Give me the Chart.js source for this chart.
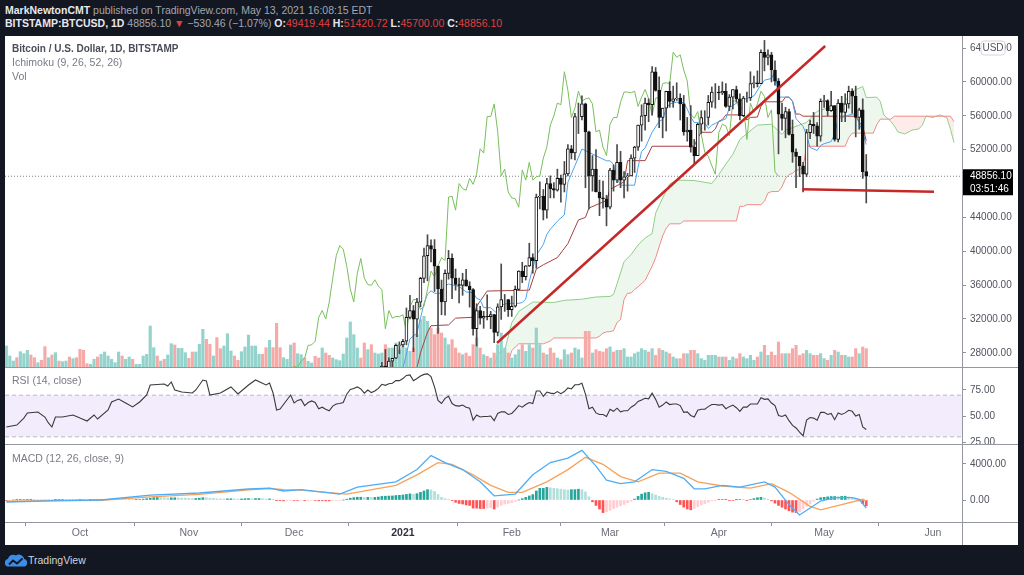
<!DOCTYPE html>
<html><head><meta charset="utf-8">
<script src="https://cdn.jsdelivr.net/npm/chart.js@4.4.1/dist/chart.umd.min.js"></script>
<style>
html,body{margin:0;padding:0}
body{width:1024px;height:575px;background:#131722;position:relative;overflow:hidden;font-family:"Liberation Sans",Arial,sans-serif}
.hdr{position:absolute;left:5px;font-size:10.5px;line-height:13px;color:#a3a6af;white-space:nowrap}
.hdr b{color:#e6e8ee}
.hdr .r{color:#e0403d}
#panel{position:absolute;left:5px;top:36px;width:1013px;height:509px;background:#fff}
canvas{position:absolute;left:5px}
.sep{position:absolute;background:#9598a1}
.leg{position:absolute;left:12px;font-size:10.5px;line-height:13px;color:#787b86;white-space:nowrap}
</style></head><body>
<div class="hdr" style="top:4px"><b>MarkNewtonCMT</b> published on TradingView.com, May 13, 2021 16:08:15 EDT</div>
<div class="hdr" style="top:17px"><b>BITSTAMP:BTCUSD, 1D</b> 48856.10 <span class="r">&#9660;</span> &minus;530.46 (&minus;1.07%) <b>O:</b><span class="r">49419.44</span> <b>H:</b><span class="r">51420.72</span> <b>L:</b><span class="r">45700.00</span> <b>C:</b><span class="r">48856.10</span></div>
<div id="panel"></div>
<canvas id="cPrice" width="1013" height="331" style="top:36px"></canvas>
<canvas id="cRsi" width="1013" height="77" style="top:367px"></canvas>
<canvas id="cMacd" width="1013" height="101" style="top:444px"></canvas>
<div class="sep" style="left:5px;top:367px;width:1013px;height:1px"></div>
<div class="sep" style="left:5px;top:444px;width:1013px;height:1px"></div>
<div class="sep" style="left:5px;top:522px;width:1013px;height:1px"></div>
<div class="sep" style="left:962px;top:36px;width:1px;height:509px"></div>
<div class="leg" style="top:42px;font-weight:bold;font-size:10px;color:#4a4d57">Bitcoin / U.S. Dollar, 1D, BITSTAMP</div>
<div class="leg" style="top:56px">Ichimoku (9, 26, 52, 26)</div>
<div class="leg" style="top:70px">Vol</div>
<div class="leg" style="top:374px">RSI (14, close)</div>
<div class="leg" style="top:452px">MACD (12, 26, close, 9)</div>
<svg style="position:absolute;left:5px;top:553px" width="22" height="14" viewBox="0 0 22 14">
<path d="M2.5 13.5 A4 4 0 0 1 3 5.8 A5.2 5.2 0 0 1 11 2.6 A5 5 0 0 1 19 5.8 A4 4 0 0 1 19.5 13.5 Z" fill="#3c8de6"/>
<polyline points="4,11.5 8,7.5 12,10.5 17.5,5.5" fill="none" stroke="#131722" stroke-width="1.8"/>
</svg>
<div style="position:absolute;left:28px;top:553px;font-size:10.5px;line-height:14px;color:#d1d4dc">TradingView</div>
<script>
Chart.defaults.font.family = '"Liberation Sans", Arial, sans-serif';
Chart.defaults.animation = false;

// ================= DATA =================
// bar days are counted from 2020-10-01 (day 0); first bar = 2020-09-10
const FIRST_DAY = -21;
const opens = [
10240,10340,10390,10440,10330,10680,10790,10960,10950,10940,11080,10920,10420,10530,10240,10740,10690,10730,10775,10700,10840,
10780,10620,10570,10550,10670,10790,10600,10670,10920,11060,11300,11380,11540,11430,11430,11500,11320,11370,11500,11750,11920,12820,12970,12930,13120,13030,13070,13650,13280,13460,13560,
13800,13760,13560,14030,14160,15590,15580,14840,15480,15330,15300,15700,16280,16320,16070,15960,16720,17660,17800,17820,18660,18690,18420,18370,19160,18740,17150,17140,17720,18180,
19700,18770,19210,19430,18670,19150,19360,19170,18320,18540,18250,18030,18800,19160,19270,19430,21340,22800,23130,23860,23470,22720,23810,23230,23730,24660,26440,26250,27030,27360,28880,
28950,29370,32190,33000,31990,33990,36800,39470,40670,40240,38240,35540,34010,37390,39150,36830,36070,35970,36630,35890,35470,30850,33000,32100,32300,32270,32520,30400,33440,34300,34300,
33100,33500,35500,37660,36990,38280,39250,38900,46400,46500,44850,48000,47400,47200,48600,47900,49140,52100,51600,55900,55900,57400,54100,48900,49700,47000,46300,46200,
45200,49600,48400,50500,48400,48800,48900,51000,52300,54900,56000,57500,57300,61200,59000,55800,56900,58900,57700,58000,58100,57400,54100,54300,52300,51300,55000,55800,55800,57600,58800,
58800,58700,58900,57100,58200,59100,58000,56000,58100,58100,59800,59900,59800,63500,62900,63200,61400,60100,56200,55700,56500,53800,51700,51200,50100,49100,54000,55000,54800,53600,
57700,57800,56600,57200,53200,57500,56400,57400,58900,58300,55800,56700,49419.44];
const highs = [
10480,10400,10470,10580,10800,10940,11080,11040,11040,11180,11080,10990,10580,10540,10790,10760,10780,10800,10950,10860,10850,
10920,10650,10600,10700,10800,10800,10690,10950,11100,11480,11440,11720,11560,11550,11630,11540,11400,11500,11820,12000,13200,13190,13030,13150,13340,13250,13780,13860,13630,13680,14100,
13900,13830,14070,14240,15750,15970,15770,15650,15850,15460,15950,16340,16480,16330,16150,16880,17860,18480,18140,18800,18950,18730,18770,19420,19480,18920,17450,17900,18350,19860,
19920,19310,19560,19520,19180,19420,19420,19290,18640,18570,18290,18930,19400,19330,19560,21500,23770,23290,24180,24300,24100,23830,24130,23780,24780,26870,28400,27400,27370,28990,29300,
29600,33300,34780,33600,34440,36940,40360,41950,41360,41380,38240,36600,37800,40100,39700,37900,36820,37400,37850,36400,35600,33800,33500,32900,34850,32900,32560,33800,38500,34900,34300,
34700,35900,37700,38700,38300,40950,39700,46750,48200,47300,48600,48900,48100,49700,49000,50600,52600,52500,56300,57500,58350,57500,54200,51300,52000,48400,48300,46600,
49800,50200,52600,51800,49400,49200,51400,52400,54900,57300,58100,58000,61800,61700,60600,56900,58900,60000,59500,59900,58600,58400,55800,57200,53200,55100,56600,56600,58400,59400,59800,
59500,60000,59800,58500,59100,59500,58600,58300,58800,61200,60700,61300,63800,64900,63800,63500,62500,60400,57500,57000,56800,55500,52100,51200,50500,54400,55500,56400,55200,58000,
58400,57900,58900,57200,57900,58300,58600,59500,59200,59500,56900,58000,51420.72];
const lows = [
10200,10210,10300,10200,10280,10640,10700,10750,10820,10900,10780,10370,10360,10140,10200,10560,10640,10630,10650,10640,10670,
10440,10380,10500,10520,10620,10540,10560,10530,10840,11050,11270,11200,11300,11280,11280,11220,11300,11350,11410,11680,11900,12700,12730,12900,12900,12800,13050,12940,12990,13130,13430,
13620,13200,13300,13540,14100,15210,14350,14720,14830,15080,15280,15460,15980,15700,15800,15880,16550,17220,17360,17760,18350,17620,18000,18050,18540,16190,16500,16880,17570,18180,
18110,18330,18890,18560,18520,18880,18900,18200,17640,17910,17570,18000,18710,19000,19050,19300,21240,22350,22770,23070,21900,22370,22700,22730,23430,24500,25860,26090,25870,27320,27900,
28700,28950,32000,28130,29900,33430,36300,36500,38750,35250,30300,32500,32450,36700,34400,35400,33900,34800,35900,33400,30100,28800,31400,30900,31900,30850,29200,30000,31950,32900,32300,
32300,33400,35400,36300,36600,38200,37400,38000,45000,43700,43900,46300,46300,47100,45800,47000,48900,50900,50800,53900,55500,47500,45000,47100,47000,44200,45100,43000,
45000,47100,48100,47500,46300,47100,48900,49300,51900,53000,54300,55300,56100,58900,54600,53400,54200,57000,57000,57800,55500,53700,53000,51700,50400,51300,53900,54300,54900,57000,56900,
57900,58500,57000,56600,56800,57600,55500,55900,57600,57800,59300,59400,59800,61300,62000,60000,59600,51500,54300,53400,53700,50500,47500,48800,47000,48800,53300,53900,52400,53000,
57000,56000,56500,53000,52900,55300,55300,56900,56300,53500,54400,48600,45700];
const closes = [
10340,10390,10440,10330,10680,10790,10960,10950,10940,11080,10920,10420,10530,10240,10740,10690,10730,10775,10700,10840,10780,
10620,10570,10550,10670,10790,10600,10670,10920,11060,11300,11380,11540,11430,11430,11500,11320,11370,11500,11750,11920,12820,12970,12930,13120,13030,13070,13650,13280,13460,13560,13800,
13760,13560,14030,14160,15590,15580,14840,15480,15330,15300,15700,16280,16320,16070,15960,16720,17660,17800,17820,18660,18690,18420,18370,19160,18740,17150,17140,17720,18180,19700,
18770,19210,19430,18670,19150,19360,19170,18320,18540,18250,18030,18800,19160,19270,19430,21340,22800,23130,23860,23470,22720,23810,23230,23730,24660,26440,26250,27030,27360,28880,28950,
29370,32190,33000,31990,33990,36800,39470,40670,40240,38240,35540,34010,37390,39150,36830,36070,35970,36630,35890,35470,30850,33000,32100,32300,32270,32520,30400,33440,34300,34300,33100,
33500,35500,37660,36990,38280,39250,38900,46400,46500,44850,48000,47400,47200,48600,47900,49140,52100,51600,55900,55900,57400,54100,48900,49700,47000,46300,46200,45200,
49600,48400,50500,48400,48800,48900,51000,52300,54900,56000,57500,57300,61200,59000,55800,56900,58900,57700,58000,58100,57400,54100,54300,52300,51300,55000,55800,55800,57600,58800,58800,
58700,58900,57100,58200,59100,58000,56000,58100,58100,59800,59900,59800,63500,62900,63200,61400,60100,56200,55700,56500,53800,51700,51200,50100,49100,54000,55000,54800,53600,57700,
57800,56600,57200,53200,57500,56400,57400,58900,58300,55800,56700,49387,48856.10];
// volume (BTC)
const volumes = [
6300,3300,1800,2800,4600,4000,5000,3600,2800,1300,2000,6100,2800,3600,4300,1800,1600,1800,3000,2500,2800,
5300,5000,1000,800,2300,3000,3800,4500,3300,2300,1300,4500,3300,2300,3000,2300,800,800,3300,3800,12300,5800,3300,1800,2300,3600,7000,6600,5600,5600,4300,
2600,4500,4500,6800,11300,8300,6800,3300,8800,5500,6300,10000,4800,3300,2000,4600,6000,9600,6300,6300,3800,3800,5800,8000,5800,13100,5800,2800,2300,6600,
7200,4000,3700,2700,1700,1200,3200,2700,5700,4200,3500,2700,2200,1900,3900,8700,13500,9700,5700,2700,7200,5200,6700,4200,3900,4200,6700,5700,5700,7200,5200,
6700,5700,4700,5700,9700,14200,15200,13700,11700,9700,11700,10200,8700,6700,8200,5700,4200,3700,4200,3200,6700,8700,5700,3700,3200,2700,4200,6700,10200,5700,4200,
2700,3700,5200,6700,4700,6700,5700,11700,6700,4200,3700,5700,4200,2700,2200,5200,3700,4200,5700,5200,2700,10700,10700,4200,5200,4700,4500,5500,
6000,4500,5000,5000,5500,3000,3000,4000,4500,5500,5000,4500,5500,3500,5500,5000,4500,4000,3000,2500,2500,4000,4000,5000,5000,4000,2500,2000,3500,3500,3500,
3000,3000,3000,2000,3000,2500,4000,3000,2500,3500,2000,3000,4500,6500,3500,4500,3500,7500,4000,4000,4000,5500,6500,3500,4000,5000,4000,3500,3500,4000,
2500,2000,3500,5000,4500,3500,3500,3000,3000,5500,4000,6000,5500];
// Ichimoku lines [day, price]
const tenkanPoints = [[92,26150],[94,29650],[96,30330],[98,33840],[99,34930],[100,35330],[101,35040],[103,35040],[104,35930],[105,36130],[108,35840],[110,35200],[112,35100],[113,34450],[114,34250],[115,33350],[117,33330],[119,32600],[120,33650],[122,33850],[125,33850],[126,33950],[127,34350],[128,36450],[130,39530],[132,40800],[133,42000],[134,42600],[136,43550],[138,44300],[139,48150],[141,50100],[143,52080],[145,51680],[150,50680],[151,50680],[152,50250],[153,48600],[154,47800],[158,47800],[159,49950],[160,51800],[161,52200],[163,54050],[165,55350],[166,55550],[167,56850],[168,57400],[170,57600],[172,57550],[173,56800],[174,55850],[175,55200],[178,55150],[179,54500],[180,54900],[181,55100],[184,55650],[185,56950],[188,57750],[192,58350],[194,59650],[195,60200],[197,60400],[198,61250],[199,58200],[202,58200],[203,57700],[204,55650],[206,54750],[207,53700],[208,52250],[210,51900],[211,52500],[212,52700],[214,52950],[215,53850],[216,55650],[220,56200],[221,56200],[223,54050],[224,52600]];
const kijunPoints = [[92,23600],[96,26200],[97,28000],[99,30450],[100,31200],[105,31300],[107,32100],[112,32200],[113,33500],[116,35300],[128,35400],[130,37900],[132,38400],[136,39250],[139,40900],[142,43700],[144,44000],[145,45100],[150,46000],[151,47300],[155,48200],[156,50700],[161,50700],[163,52400],[175,52400],[176,53400],[177,54050],[180,54050],[181,54450],[182,55350],[183,55550],[184,56100],[188,56100],[189,56050],[190,55500],[191,55800],[193,55850],[194,57100],[195,57650],[200,57650],[201,58200],[202,58200],[203,57700],[204,56200],[205,56200],[206,55950],[221,55950],[222,55250],[223,54750],[224,53050]];
const spanAPoints = [[117,24900],[119,27900],[121,28300],[123,31550],[125,32900],[129,34000],[135,33950],[138,34200],[143,34340],[147,34600],[151,34660],[152,34900],[153,36150],[155,38775],[157,39600],[159,40750],[161,41550],[163,42100],[164,44500],[166,46300],[168,47950],[170,48400],[175,48350],[180,48000],[182,49050],[184,50300],[186,51450],[188,53200],[190,53900],[193,54900],[197,55000],[200,53800],[201,54300],[203,54600],[207,55225],[210,56525],[213,56925],[215,56625],[217,57075],[219,58375],[220,58900],[223,59450],[224,58150],[227,58200],[228,57700],[229,56100],[231,55350],[232,54800],[233,54100],[235,53850],[237,54300],[239,54450],[240,54900],[241,55950],[243,55800],[245,56100],[247,55750],[248,54400],[249,52825]];
const spanBPoints = [[117,22440],[119,25240],[121,25290],[123,28275],[125,29070],[132,29070],[133,29225],[134,29415],[135,29760],[147,29760],[148,29975],[149,30330],[150,30475],[151,30500],[152,30625],[153,31595],[154,31925],[155,34325],[156,35050],[157,35050],[158,35485],[159,35800],[161,36565],[163,38230],[164,39235],[166,41810],[167,42700],[168,43240],[171,43240],[172,43575],[187,43575],[188,45300],[189,45300],[190,45500],[194,45500],[195,45900],[196,46875],[197,47050],[199,47050],[200,47600],[201,48600],[202,49050],[203,49200],[204,49600],[205,49600],[206,49900],[207,52400],[218,52400],[219,53400],[220,53950],[226,53950],[227,54950],[228,55600],[231,55600],[232,55950],[248,55950],[249,55300]];
// drawings [day, price]
const trendLinePoints = [[118.8,29170],[212.3,64240]];
const supportLinePoints = [[205.7,47320],[243.3,47030]];
// RSI [day, value]
const rsiPoints = [[-21,39.4],[-18,41.3],[-16,48],[-15,52.9],[-12,53.8],[-10,49],[-9,43.3],[-8,39.4],[-7,49],[-5,49],[-2,51],[0,48],[2,45.2],[4,51],[5,47.1],[8,55.8],[9,63.5],[11,66.3],[13,62.5],[15,58.7],[17,63.5],[19,70.2],[20,79.8],[24,80.8],[25,78.8],[26,82.7],[27,75],[29,73],[32,72.1],[33,75],[35,84.6],[36,83.7],[37,70.2],[40,72.1],[43,77.9],[45,71.2],[48,79.8],[50,84.6],[53,79.8],[54,81.7],[55,72.1],[56,55.8],[57,56.7],[60,70.2],
[61,62.5],[62,65],[63,66],[64,60],[65,63],[66,64.5],[67,63],[68,57],[69,58.5],[70,56.5],[71,55],[72,59.5],[73,61.5],[74,62],[75,63],[76,71],[77,75.5],[78,76.5],[79,78],[80,76],[81,72],[82,75],[83,72.5],[84,74],[85,76.5],[86,80.5],[87,79.5],[88,81],[89,81.5],[90,84],[91,84],
[92,86],[93,89],[94,89.5],[95,84],[96,86],[97,88.5],[98,90],[99,90.5],[100,88],[101,78],[102,65],[103,62],[104,67],[105,69],[106,62],[107,60],[108,59.5],[109,60.5],[110,58.5],[111,57.5],[112,46],[113,51],[114,49],[115,49.5],[116,49.5],[117,50],[118,45.5],[119,52.5],[120,54],[121,54],[122,51.5],
[123,52.5],[124,56],[125,60],[126,58.5],[127,61],[128,63],[129,62],[130,74],[131,74],[132,69],[133,73],[134,72],[135,71.5],[136,73.5],[137,71.5],[138,73.5],[139,77],[140,76],[141,80],[142,80],[143,81.5],[144,71],[145,57],[146,58.5],[147,53],[148,51.5],[149,51.5],[150,49.5],
[151,56.5],[152,54.5],[153,57.5],[154,54],[155,55],[156,55],[157,58.5],[158,60.5],[159,64],[160,65.5],[161,67],[162,66.5],[163,72],[164,66],[165,58.5],[166,60.5],[167,63.5],[168,61],[169,61.5],[170,61.5],[171,60],[172,53.5],[173,54],[174,50.5],[175,49],[176,55.5],[177,56.5],[178,56.5],[179,59],[180,61],[181,61],
[182,60.5],[183,61],[184,57],[185,59],[186,60.5],[187,58],[188,54.5],[189,58.5],[190,58.5],[191,61.5],[192,61.5],[193,61.5],[194,67.5],[195,66],[196,66.5],[197,62.5],[198,60],[199,50.5],[200,49.5],[201,51],[202,45.5],[203,41],[204,38.5],[205,34.5],[206,31],[207,46],[208,48.5],[209,48],[210,46],[211,53.5],
[212,53.5],[213,51.5],[214,52.5],[215,46.5],[216,53],[217,51.5],[218,53],[219,55.5],[220,54.5],[221,50],[222,51.5],[223,39.5],[224,37]];
// MACD [day, value]
const macdPoints = [[-21,-220],[-6,-80],[6,0],[20,550],[34,780],[48,1220],[54,1330],[58,1000],[63,1150],[74,660],[79,1437],[90,2020],[96,3380],[100,4934],[104,4157],[109,3380],[114,2020],[118,466],[124,660],[129,2797],[134,4157],[139,4662],[143,5517],[147,3768],[150,2214],[154,1826],[158,2020],[163,3380],[167,3186],[172,2409],[175,1243],[178,1243],[183,1632],[188,1437],[195,2020],[198,1437],[202,-505],[205,-1670],[211,-117],[215,272],[220,272],[222,78],[224,-894]];
const signalPoints = [[-21,-120],[6,-30],[20,350],[34,620],[48,1120],[54,1280],[58,1150],[63,1100],[76,660],[90,1632],[96,2797],[102,4157],[106,3963],[112,2797],[117,1632],[122,855],[126,855],[133,2020],[139,3380],[144,4740],[149,3963],[154,2603],[159,2020],[165,2991],[171,2991],[176,2020],[183,1554],[191,1321],[197,1826],[202,855],[208,-700],[211,-1088],[217,-505],[223,78],[224,-117]];
// MACD histogram, one value per bar
const histValues = [
-40,-20,0,20,40,60,70,80,70,60,
50,40,30,20,30,40,50,40,30,20,10,
10,5,0,10,20,30,40,50,60,70,80,70,60,50,40,30,
40,60,100,150,200,260,280,270,250,230,240,250,230,210,200,
180,160,170,200,260,250,200,180,150,130,120,130,140,130,110,
120,150,160,150,160,170,150,120,120,90,-20,-80,-100,-90,-20,
-60,-60,-50,-80,-70,-60,-60,-90,-90,-100,-100,-70,-40,-20,0,
90,200,260,310,310,280,290,280,290,330,400,420,440,450,500,520,
560,620,680,640,700,850,1000,1150,1120,950,600,300,150,
80,-80,-250,-380,-450,-550,-600,-900,-900,-950,-950,-900,-850,-1000,-800,-600,
-450,-380,-300,-150,0,150,300,450,600,1000,1300,
1300,1400,1350,1300,1250,1200,1150,1100,1150,1150,1200,1150,900,350,
-200,-600,-1000,-1400,-1300,-1150,-950,-800,-650,-500,-300,-150,
100,400,650,800,850,700,550,400,300,200,120,50,
-200,-500,-800,-1000,-1090,-950,-750,-550,-400,-250,-100,-30,
40,60,80,-40,-60,20,60,40,-30,50,150,250,300,220,
100,-100,-350,-600,-800,-1000,-1200,-1350,-1400,-1300,-1000,-700,-400,-150,
100,250,300,350,380,390,380,400,420,350,250,150,-100,-400,-650];
const monthTicks = [0,31,61,92,123,151,182,212,243];
const monthLabels = ['Oct','Nov','Dec','2021','Feb','Mar','Apr','May','Jun'];
const priceTicks = [28000,32000,36000,40000,44000,48000,52000,56000,60000,64000];
const rsiTicks = [25,50,75];
const rsiBand = [30,70];
const macdTicks = [0,4000];
const lastPrice = 48856.10;
const countdown = '03:51:46';
const currency = 'USD';

// ================= CHARTS =================
const X_MIN = -21.37, X_MAX = 251.28;
const days = closes.map((_, i) => FIRST_DAY + i);
const pts = a => a.map(([x, y]) => ({x, y}));
const xHidden = {type:'linear', min:X_MIN, max:X_MAX, offset:false, display:false};

function rightAxis(min, max, ticks, fmt) {
  return {
    position:'right', min, max,
    grid:{drawOnChartArea:false, drawTicks:true, tickLength:4, color:'#8f929a'},
    border:{display:false},
    ticks:{color:'#50535e', font:{size:10}, padding:4, autoSkip:false, callback:fmt},
    afterBuildTicks: s => { s.ticks = ticks.map(v => ({value:v})); },
    afterFit: s => { s.width = 56; s.paddingTop = 0; s.paddingBottom = 0; }
  };
}
const baseOpts = {responsive:false, maintainAspectRatio:false, animation:false,
  layout:{padding:0}, plugins:{legend:{display:false}, tooltip:{enabled:false}}};

const VOL_UP = '#93d3cc', VOL_DN = '#f6aaa8';
const up = closes.map((c, i) => c >= opens[i]);

const axisExtras = {
  id:'axisExtras',
  afterDraw(chart) {
    const {ctx, chartArea, scales:{y}} = chart;
    const py = y.getPixelForValue(lastPrice);
    const x0 = chartArea.right;
    ctx.save();
    ctx.fillStyle = '#000';
    ctx.fillRect(x0, py - 7, 51, 26);
    ctx.fillStyle = '#fff';
    ctx.font = '10px "Liberation Sans", Arial';
    ctx.textBaseline = 'middle';
    ctx.textAlign = 'left';
    ctx.fillText(lastPrice.toFixed(2), x0 + 8, py);
    ctx.fillText(countdown, x0 + 8, py + 12.5);
    // currency badge
    const bx = x0 + 19, by = 5, bw = 24, bh = 14, r = 3;
    ctx.beginPath();
    ctx.moveTo(bx + r, by); ctx.lineTo(bx + bw - r, by); ctx.quadraticCurveTo(bx + bw, by, bx + bw, by + r);
    ctx.lineTo(bx + bw, by + bh - r); ctx.quadraticCurveTo(bx + bw, by + bh, bx + bw - r, by + bh);
    ctx.lineTo(bx + r, by + bh); ctx.quadraticCurveTo(bx, by + bh, bx, by + bh - r);
    ctx.lineTo(bx, by + r); ctx.quadraticCurveTo(bx, by, bx + r, by);
    ctx.fillStyle = '#fff'; ctx.fill();
    ctx.strokeStyle = '#d1d4dc'; ctx.lineWidth = 1; ctx.stroke();
    ctx.fillStyle = '#50535e'; ctx.textAlign = 'center';
    ctx.fillText(currency, bx + bw / 2, by + bh / 2 + 0.5);
    ctx.restore();
  }
};

const line = (data, color, width, order, extra) => Object.assign({type:'line', data, borderColor:color, borderWidth:width,
  pointRadius:0, tension:0, fill:false, order}, extra || {});

new Chart(document.getElementById('cPrice'), {
  type:'bar',
  data:{datasets:[
    line(pts(spanAPoints), '#8fcf88', 1, 20, {fill:{target:1, above:'rgba(76,175,80,0.10)', below:'rgba(244,67,54,0.10)'}}),
    line(pts(spanBPoints), '#f28b85', 1, 19),
    {type:'bar', yAxisID:'yVol', grouped:false, barThickness:2.5, order:18,
      data: volumes.map((v, i) => ({x:days[i], y:v})),
      backgroundColor: up.map(u => u ? VOL_UP : VOL_DN)},
    line([{x:X_MIN, y:lastPrice}, {x:X_MAX, y:lastPrice}], '#7d8088', 1, 17, {borderDash:[1,2]}),
    line(pts(kijunPoints), '#a8413f', 1, 16),
    line(pts(tenkanPoints), '#4aa3f0', 1, 15),
    line(closes.map((c, i) => ({x:days[i] - 25, y:c})), '#79bf5b', 1, 14),
    {type:'bar', grouped:false, barThickness:1, order:13,
      data: days.map((d, i) => ({x:d, y:[lows[i], highs[i]]})),
      backgroundColor:'#4a4a4a'},
    {type:'bar', grouped:false, barThickness:3, order:12, borderSkipped:false, borderWidth:1,
      data: days.map((d, i) => ({x:d, y:[opens[i], closes[i]]})),
      backgroundColor: up.map(u => u ? '#ffffff' : '#111111'), borderColor:'#111111'},
    line(pts(trendLinePoints), '#c62828', 2.5, 2),
    line(pts(supportLinePoints), '#c62828', 2.5, 2)
  ]},
  options:Object.assign({}, baseOpts, {scales:{
    x:xHidden,
    y:rightAxis(26330, 65420, priceTicks, v => v === 48000 ? null : v.toFixed(2)),
    yVol:{display:false, min:0, max:99300}
  }}),
  plugins:[axisExtras]
});

new Chart(document.getElementById('cRsi'), {
  type:'line',
  data:{datasets:[
    line([{x:X_MIN, y:rsiBand[1]}, {x:X_MAX, y:rsiBand[1]}], '#b8bbc3', 1, 5, {borderDash:[4,3], fill:{target:'+1'}, backgroundColor:'rgba(151,95,230,0.12)'}),
    line([{x:X_MIN, y:rsiBand[0]}, {x:X_MAX, y:rsiBand[0]}], '#b8bbc3', 1, 4, {borderDash:[4,3]}),
    line(pts(rsiPoints), '#3a3a3a', 1.1, 1)
  ]},
  options:Object.assign({}, baseOpts, {scales:{
    x:xHidden,
    y:rightAxis(23.1, 97.1, rsiTicks, v => v.toFixed(2))
  }})
});

const histColors = histValues.map((v, i) => {
  const p = i > 0 ? histValues[i - 1] : 0;
  if (v >= 0) return v >= p ? '#26a69a' : '#b2dfdb';
  return v <= p ? '#ff5252' : '#ffcdd2';
});

new Chart(document.getElementById('cMacd'), {
  type:'bar',
  data:{datasets:[
    {type:'bar', grouped:false, barThickness:2, order:5,
      data: histValues.map((v, i) => ({x:days[i], y:v})), backgroundColor:histColors},
    line(pts(signalPoints), '#f7a25a', 1.3, 2),
    line(pts(macdPoints), '#4fadf5', 1.3, 1)
  ]},
  options:Object.assign({}, baseOpts, {scales:{
    x:{type:'linear', position:'bottom', min:X_MIN, max:X_MAX, offset:false,
      grid:{drawOnChartArea:false, drawTicks:true, tickLength:4, color:'#8f929a'},
      border:{display:false},
      ticks:{autoSkip:false, maxRotation:0, padding:1,
        color: c => (c.tick && c.tick.value === 92) ? '#2f323c' : '#6a6d78',
        font: c => ({size:10.5, weight:(c.tick && c.tick.value === 92) ? 'bold' : 'normal'}),
        callback: (v, i) => monthLabels[i]},
      afterBuildTicks: s => { s.ticks = monthTicks.map(v => ({value:v})); },
      afterFit: s => { s.height = 23; s.paddingLeft = 0; s.paddingRight = 0; }
    },
    y:rightAxis(-2444, 6222, macdTicks, v => v.toFixed(2))
  }})
});
</script>
</body></html>
